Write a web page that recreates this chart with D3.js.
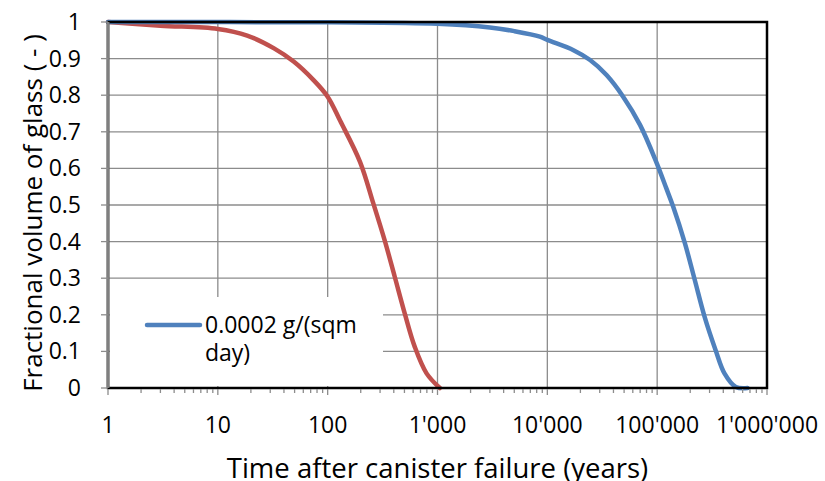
<!DOCTYPE html>
<html>
<head>
<meta charset="utf-8">
<script src="https://cdn.jsdelivr.net/npm/d3@7"></script>
<style>
  body { margin: 0; background: #fff; }
  svg { display: block; font-family: "Open Sans", sans-serif; }
</style>
</head>
<body>
<svg id="chart" width="825" height="481"></svg>
<script>
// values (time in years, fraction of glass left)
var redTimes  = [1, 3, 10, 18.5, 32.5, 49, 74, 100, 130, 197, 260, 330, 408, 503, 620, 795, 1050];
var redValues = [1, 0.99, 0.981, 0.963, 0.928, 0.892, 0.842, 0.796, 0.73, 0.618, 0.505, 0.404, 0.304, 0.204, 0.113, 0.04, 0];

var blueTimes  = [1, 100, 1000, 3000, 5000, 8550, 10000, 17300, 24500, 34600, 49000, 69800, 98000, 121000, 140000, 179000, 220000, 270000, 340000, 410000, 520000, 665000];
var blueValues = [1, 0.999, 0.995, 0.985, 0.975, 0.96, 0.951, 0.923, 0.896, 0.855, 0.796, 0.719, 0.618, 0.546, 0.495, 0.395, 0.295, 0.195, 0.104, 0.04, 0.003, 0];

var xTicks = [1, 10, 100, 1000, 10000, 100000, 1000000];
var yTicks = [0, 0.1, 0.2, 0.3, 0.4, 0.5, 0.6, 0.7, 0.8, 0.9, 1];
var legendLabel = ['0.0002 g/(sqm', 'day)'];

var margin = {top: 22, right: 58, bottom: 93, left: 108};
var svg = d3.select('#chart');
var width = 825 - margin.left - margin.right;
var height = 481 - margin.top - margin.bottom;

var g = svg.append('g').attr('transform', 'translate(' + margin.left + ',' + margin.top + ')');

var x = d3.scaleLog().domain([1, 1e6]).range([0, width]);
var y = d3.scaleLinear().domain([0, 1]).range([height, 0]);

var fmt = d3.formatLocale({decimal: '.', thousands: "'", grouping: [3], currency: ['', '']}).format(',');

// gridlines
g.append('g').selectAll('line.h').data(yTicks).enter().append('line')
  .attr('x1', 0).attr('x2', width)
  .attr('y1', function(d) { return y(d); }).attr('y2', function(d) { return y(d); })
  .attr('stroke', '#8c8c8c').attr('stroke-width', 1.3);
g.append('g').selectAll('line.v').data(xTicks).enter().append('line')
  .attr('x1', function(d) { return x(d); }).attr('x2', function(d) { return x(d); })
  .attr('y1', 0).attr('y2', height)
  .attr('stroke', '#8c8c8c').attr('stroke-width', 1.3);

// legend box hides the grid behind it
g.append('rect').attr('x', 2).attr('y', 275).attr('width', 273).attr('height', 89).attr('fill', '#fff');

var line = d3.line()
  .x(function(d) { return x(d[0]); })
  .y(function(d) { return y(d[1]); })
  .curve(d3.curveCatmullRom.alpha(0.5));

g.append('path').datum(d3.zip(redTimes, redValues))
  .attr('d', line).attr('fill', 'none')
  .attr('stroke', '#C0504D').attr('stroke-width', 4.5).attr('stroke-linecap', 'round');
g.append('path').datum(d3.zip(blueTimes, blueValues))
  .attr('d', line).attr('fill', 'none')
  .attr('stroke', '#4F81BD').attr('stroke-width', 4.5).attr('stroke-linecap', 'round');

// plot border
g.append('rect').attr('x', 0).attr('y', 0).attr('width', width).attr('height', height)
  .attr('fill', 'none').attr('stroke', '#000').attr('stroke-width', 2.5);

// x axis: major + minor ticks
var minor = [];
for (var e = 0; e < 6; e++) {
  for (var k = 2; k <= 9; k++) minor.push(k * Math.pow(10, e));
}
var xAxis = g.append('g').attr('transform', 'translate(0,' + height + ')');
xAxis.selectAll('line.minor').data(minor).enter().append('line')
  .attr('x1', function(d) { return x(d); }).attr('x2', function(d) { return x(d); })
  .attr('y1', 1).attr('y2', 5).attr('stroke', '#8c8c8c').attr('stroke-width', 1.3);
xAxis.selectAll('line.major').data(xTicks).enter().append('line')
  .attr('x1', function(d) { return x(d); }).attr('x2', function(d) { return x(d); })
  .attr('y1', 1).attr('y2', 7).attr('stroke', '#8c8c8c').attr('stroke-width', 1.3);
xAxis.selectAll('text').data(xTicks).enter().append('text')
  .attr('x', function(d) { return x(d); }).attr('y', 45)
  .attr('text-anchor', 'middle').attr('font-size', 23).attr('fill', '#000')
  .text(function(d) { return fmt(d); });

// y axis
var yAxis = g.append('g');
yAxis.append('line').attr('x1', 0).attr('x2', 0).attr('y1', 0).attr('y2', height)
  .attr('stroke', '#7f7f7f').attr('stroke-width', 3);
yAxis.selectAll('line.tick').data(yTicks).enter().append('line')
  .attr('x1', -7).attr('x2', 0)
  .attr('y1', function(d) { return y(d); }).attr('y2', function(d) { return y(d); })
  .attr('stroke', '#8c8c8c').attr('stroke-width', 1.3);
yAxis.selectAll('text').data(yTicks).enter().append('text')
  .attr('x', -27).attr('y', function(d) { return y(d); }).attr('dy', '0.35em')
  .attr('text-anchor', 'end').attr('font-size', 23).attr('fill', '#000')
  .text(function(d) { return d; });

// axis titles
svg.append('text').attr('x', margin.left + width / 2).attr('y', 478)
  .attr('text-anchor', 'middle').attr('font-size', 27.5).attr('fill', '#000')
  .text('Time after canister failure (years)');
svg.append('text').attr('transform', 'translate(42,213) rotate(-90)')
  .attr('text-anchor', 'middle').attr('font-size', 26).attr('fill', '#000')
  .text('Fractional volume of glass ( - )');

// legend
var leg = g.append('g');
leg.append('line').attr('x1', 39).attr('x2', 92).attr('y1', 303).attr('y2', 303)
  .attr('stroke', '#4F81BD').attr('stroke-width', 4.5).attr('stroke-linecap', 'round');
leg.selectAll('text').data(legendLabel).enter().append('text')
  .attr('x', 97).attr('y', function(d, i) { return 311 + i * 28; })
  .attr('font-size', 23).attr('fill', '#000')
  .text(function(d) { return d; });
</script>
</body>
</html>
